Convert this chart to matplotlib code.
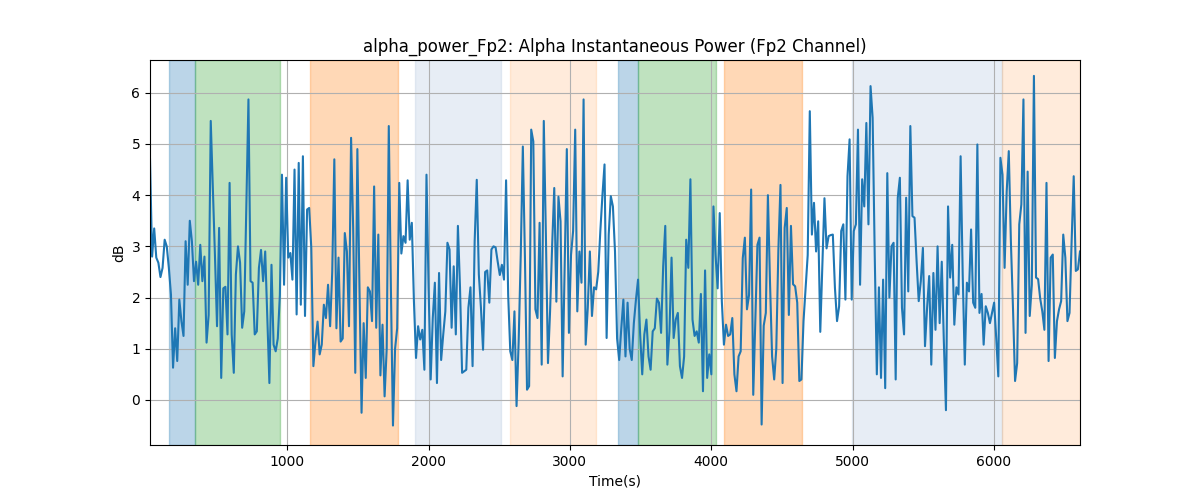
import matplotlib.pyplot as plt
import numpy as np

power_db = [
    # ~28-790 s
    4.7, 2.8, 3.35, 2.78, 2.68, 2.4, 2.58, 3.13, 3.0, 2.58, 2.06, 0.63, 1.4, 0.76,
    1.96, 1.54, 1.25, 3.1, 2.25, 3.5, 3.1, 2.32, 2.7, 2.25, 3.03, 2.32, 2.8, 1.12,
    1.66, 5.45, 4.15, 2.83, 1.44, 3.36, 0.43, 2.18, 2.21, 1.28, 4.24, 1.28, 0.53,
    2.45, 3.0, 2.68, 1.41, 1.73, 3.8, 5.87, 2.32, 2.29, 1.28, 1.34, 2.58, 2.93, 2.32,
    # ~790-1600 s
    2.9, 1.6, 0.33, 2.64, 1.08, 0.95, 1.2, 2.05, 4.4, 2.25, 4.34, 2.78, 2.87, 2.35,
    4.5, 1.67, 4.63, 1.86, 4.76, 1.64, 3.72, 3.75, 2.97, 0.66, 1.14, 1.53, 0.89,
    1.08, 1.86, 1.6, 2.25, 1.44, 2.5, 4.7, 1.4, 2.78, 1.14, 1.2, 3.26, 2.9, 1.44,
    5.12, 3.35, 0.53, 4.9, 2.2, -0.25, 1.5, 0.43, 2.2, 2.12, 1.54, 4.17, 1.41, 3.23,
    0.48,
    # ~1600-2420 s
    1.47, 0.07, 1.0, 5.35, 2.2, -0.5, 1.0, 1.4, 4.24, 2.86, 3.2, 3.07, 4.29, 3.13,
    3.46, 1.93, 0.82, 1.44, 1.18, 1.37, 0.59, 4.4, 2.2, 0.4, 1.6, 2.29, 0.33, 2.48,
    0.78, 1.28, 1.73, 3.07, 2.94, 1.41, 2.61, 1.28, 3.4, 2.2, 0.53, 0.56, 0.59, 1.8,
    2.2, 0.66, 3.1, 4.3, 2.45, 1.8, 0.98, 2.5, 2.53, 1.9, 2.94, 3.0, 2.98,
    # ~2420-3230 s
    2.7, 2.44, 2.64, 2.35, 4.29, 2.05, 0.95, 0.78, 1.73, -0.12, 1.14, 2.83, 4.95,
    2.78, 0.2, 0.27, 5.28, 5.05, 1.77, 1.6, 3.46, 0.69, 5.45, 3.23, 0.72, 1.73,
    3.03, 4.14, 1.92, 3.97, 3.49, 0.46, 2.7, 4.9, 1.31, 2.83, 3.3, 5.28, 1.73, 2.9,
    2.29, 5.87, 1.08, 1.8, 2.9, 1.64, 2.2, 2.16, 2.5, 3.3, 4.0, 4.6, 1.21, 3.23,
    # ~3230-4050 s
    3.98, 3.78, 2.9, 1.2, 0.78, 1.4, 1.96, 0.85, 1.9, 1.0, 0.78, 1.5, 1.96, 2.35,
    1.28, 0.5, 1.28, 1.57, 0.85, 0.59, 1.34, 1.4, 1.98, 1.9, 1.31, 2.61, 3.4, 0.69,
    1.34, 2.78, 1.21, 1.57, 1.7, 0.66, 0.43, 0.85, 3.13, 2.58, 4.31, 1.57, 1.25,
    1.34, 1.12, 2.07, 0.17, 2.53, 0.43, 0.89, 0.5, 3.78, 2.83, 2.18, 3.65, 1.93,
    1.08, 1.47,
    # ~4050-4860 s
    1.25, 1.28, 1.6, 0.5, 0.17, 0.85, 0.95, 2.77, 3.17, 1.77, 2.05, 4.11, 0.1, 1.6,
    3.03, 3.17, -0.48, 1.45, 1.7, 4.0, 2.3, 0.85, 0.4, 1.0, 2.93, 4.2, 0.33, 3.36,
    3.75, 1.66, 3.4, 2.26, 2.22, 1.9, 0.37, 0.4, 1.54, 2.2, 2.83, 5.64, 3.23, 3.85,
    2.9, 3.49, 1.33, 2.65, 3.94, 2.96, 3.2, 3.22, 3.23, 2.19, 1.54, 1.83, 3.3,
    # ~4860-5680 s
    3.43, 1.96, 4.37, 5.09, 1.96, 3.3, 3.43, 5.28, 2.25, 4.31, 3.78, 5.41, 3.43,
    6.13, 5.51, 2.83, 0.5, 2.2, 0.43, 2.35, 0.23, 4.43, 2.0, 3.0, 3.07, 0.4, 3.95,
    4.34, 1.8, 1.28, 3.95, 2.12, 5.35, 3.59, 3.56, 2.7, 1.93, 2.32, 2.97, 1.05, 1.8,
    2.42, 0.69, 2.48, 1.37, 3.0, 1.5, 2.7, 1.14, -0.2, 3.78, 2.39, 3.03, 1.47, 2.2,
    # ~5680-6610 s
    2.06, 4.76, 2.45, 0.69, 2.29, 2.12, 3.33, 1.9, 1.8, 4.99, 1.7, 2.07, 1.08, 1.83,
    1.7, 1.5, 1.7, 1.9, 1.21, 0.46, 4.73, 4.4, 2.58, 4.07, 4.86, 3.1, 1.8, 0.37,
    0.72, 3.43, 3.82, 5.87, 1.31, 4.46, 1.64, 2.25, 6.33, 2.39, 2.36, 1.98, 1.73,
    1.37, 4.24, 0.76, 2.78, 2.84, 0.82, 1.54, 1.77, 1.93, 3.23, 2.78, 1.54, 1.7,
    3.1, 4.37, 2.52, 2.55, 2.9,
]
t_start, t_end = 28, 6610

# shaded epochs: (start s, end s, colour, alpha)
span_start = [163, 345, 1163, 1901, 2574, 3338, 3485, 4093, 4998, 6058]
span_end = [345, 948, 1785, 2515, 3182, 3485, 4035, 4643, 6058, 6610]
span_color = ['tab:blue', 'tab:green', 'tab:orange', 'lightsteelblue', 'tab:orange',
              'tab:blue', 'tab:green', 'tab:orange', 'lightsteelblue', 'tab:orange']
span_alpha = [0.3, 0.3, 0.3, 0.3, 0.15, 0.3, 0.3, 0.3, 0.3, 0.15]

time_s = np.linspace(t_start, t_end, len(power_db))

fig, ax = plt.subplots(figsize=(12, 5), dpi=100)
for s, e, c, a in zip(span_start, span_end, span_color, span_alpha):
    ax.axvspan(s, e, color=c, alpha=a)
ax.plot(time_s, power_db, color='tab:blue')
ax.set_xlim(time_s[0], time_s[-1])
ax.set_ylim(-0.88, 6.64)
ax.grid(True)
ax.set_title("alpha_power_Fp2: Alpha Instantaneous Power (Fp2 Channel)")
ax.set_xlabel("Time(s)")
ax.set_ylabel("dB")

fig.savefig("out.png")
